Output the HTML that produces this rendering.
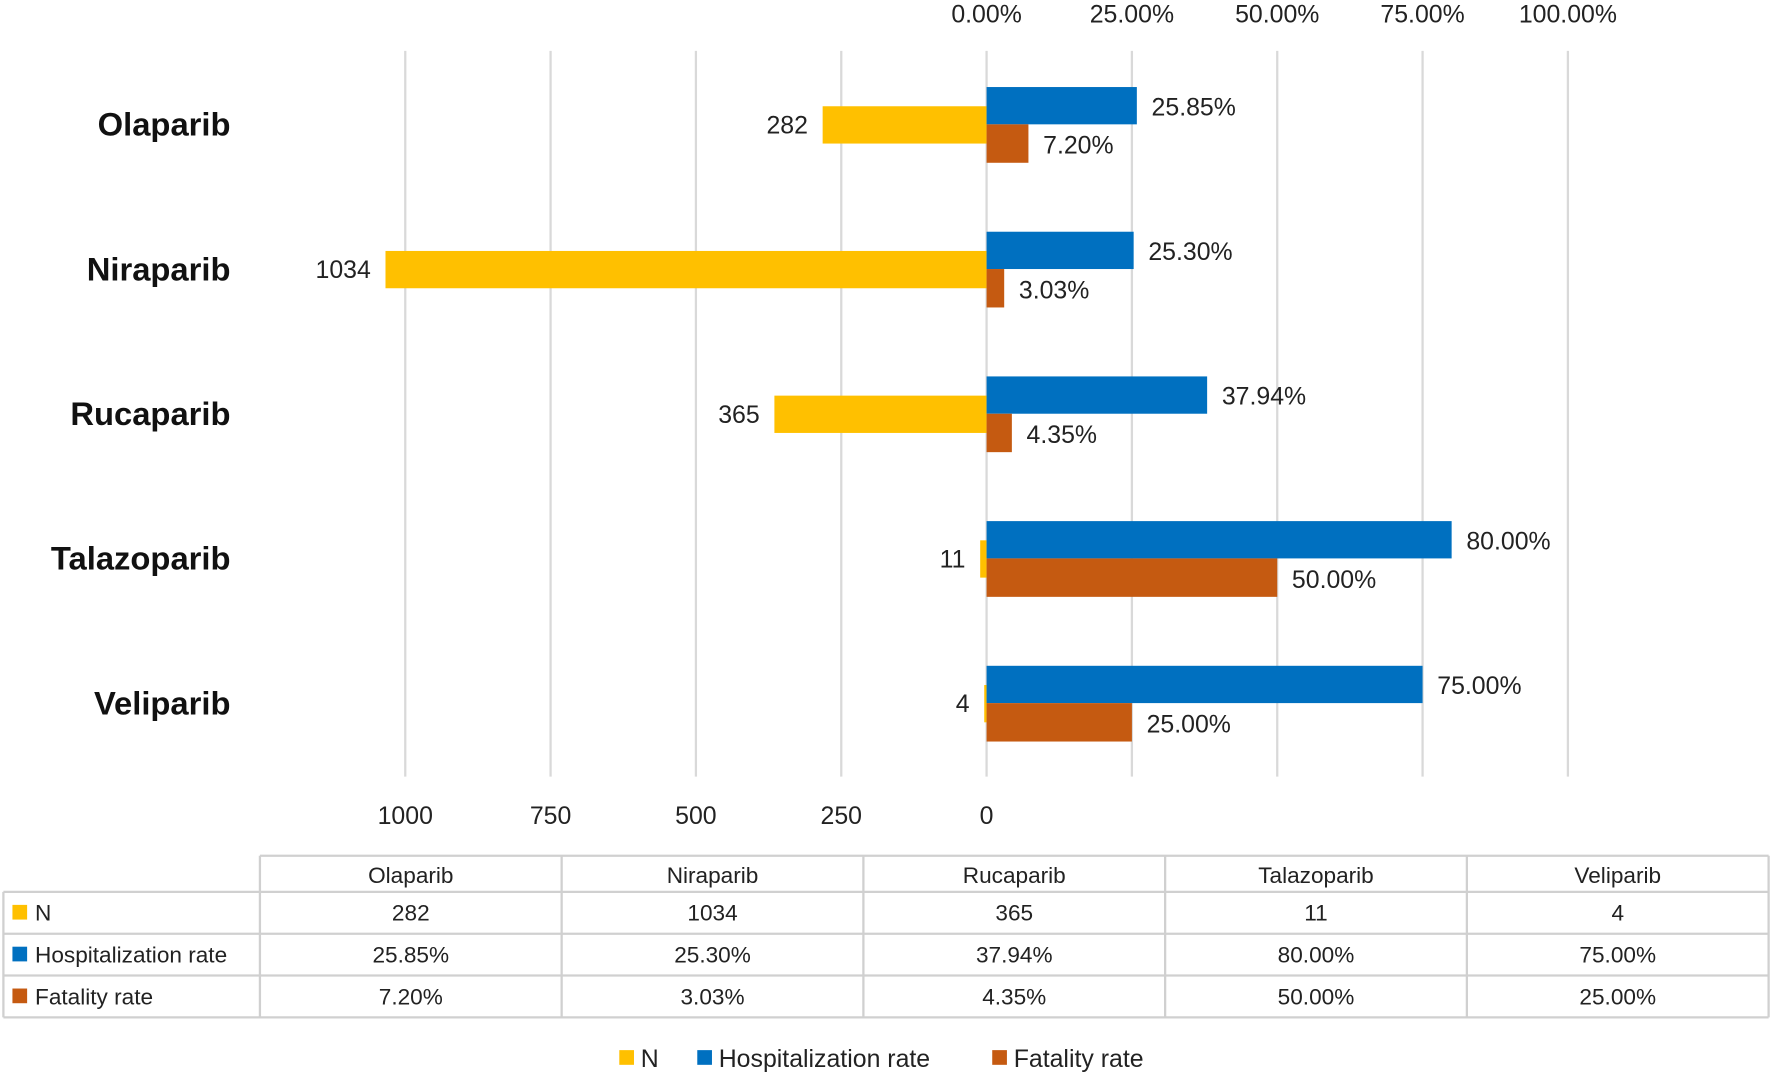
<!DOCTYPE html>
<html><head><meta charset="utf-8"><style>
body{margin:0;background:#fff;font-family:"Liberation Sans",sans-serif;}
svg{display:block;}
svg text{font-family:"Liberation Sans",sans-serif;}
</style></head><body>
<svg width="1772" height="1075" viewBox="0 0 1568 951" preserveAspectRatio="none">
<g id="grid"></g>
<g id="bars"></g>
<g id="labels"></g>
<g id="table"></g>
<g id="legend"></g>
</svg>
<script>
const categories=["Olaparib","Niraparib","Rucaparib","Talazoparib","Veliparib"];
const nValues=[282,1034,365,11,4];
const hospRates=[25.85,25.30,37.94,80.00,75.00];
const fatalRates=[7.20,3.03,4.35,50.00,25.00];
const nTicks=[1000,750,500,250,0];
const pctTicks=[0,25,50,75,100];
const seriesNames=["N","Hospitalization rate","Fatality rate"];
const colors=["#FFC000","#0070C0","#C55A11"];

const NS="http://www.w3.org/2000/svg";
const zeroX=873, unit=128.6;
const xN=v=>zeroX-v/250*unit;
const xP=v=>zeroX+v/25*unit;
const rowY=i=>110+i*128;
function mk(tag,attrs,parent,txt){const e=document.createElementNS(NS,tag);for(const k in attrs)e.setAttribute(k,attrs[k]);if(txt!==undefined)e.textContent=txt;parent.appendChild(e);return e;}
const grid=document.getElementById('grid'),bars=document.getElementById('bars'),labels=document.getElementById('labels'),table=document.getElementById('table'),legend=document.getElementById('legend');

nTicks.forEach(t=>{
  const l=mk('line',{x1:xN(t),x2:xN(t),y1:45,y2:687,stroke:'#d9d9d9','stroke-width':2},grid);
  
  
  const tx=mk('text',{x:xN(t),y:729,'text-anchor':'middle','font-size':22,fill:'#222'},labels,String(t));
  
  
});
pctTicks.forEach(t=>{
  if(t>0){const l=mk('line',{x1:xP(t),x2:xP(t),y1:45,y2:687,stroke:'#d9d9d9','stroke-width':2},grid);
  
  }
  const tx=mk('text',{x:xP(t),y:20,'text-anchor':'middle','font-size':22,fill:'#222'},labels,t.toFixed(2)+'%');
  
  
});
categories.forEach((c,i)=>{
  const y=rowY(i);
  const cl=mk('text',{x:204,y:y+10,'text-anchor':'end','font-size':29,'font-weight':'bold',fill:'#111'},labels,c);
  
  
  const yb=mk('rect',{x:xN(nValues[i]),y:y-16,width:Math.max(zeroX-xN(nValues[i]),1),height:33,fill:colors[0]},bars);
  
  
  const yl=mk('text',{x:xN(nValues[i])-13,y:y+8,'text-anchor':'end','font-size':22,fill:'#222'},labels,String(nValues[i]));
  
  
  const hb=mk('rect',{x:zeroX,y:y-33,width:xP(hospRates[i])-zeroX,height:33,fill:colors[1]},bars);
  
  
  const hl=mk('text',{x:xP(hospRates[i])+13,y:y-8,'font-size':22,fill:'#222'},labels,hospRates[i].toFixed(2)+'%');
  
  
  const fb=mk('rect',{x:zeroX,y:y,width:xP(fatalRates[i])-zeroX,height:34,fill:colors[2]},bars);
  
  
  const fl=mk('text',{x:xP(fatalRates[i])+13,y:y+26,'font-size':22,fill:'#222'},labels,fatalRates[i].toFixed(2)+'%');
  
  
});
// table
const colX=[3,230,497,764,1031,1298,1565];
const rowTop=[757,789,826,863,900];
const st={stroke:'#d0d0d0','stroke-width':2};
rowTop.forEach((y,r)=>{const l=mk('line',Object.assign({x1:r===0?230:3,x2:1565,y1:y,y2:y},st),table);
  
  });
colX.forEach((x,k)=>{const l=mk('line',Object.assign({x1:x,x2:x,y1:k===0?789:757,y2:900},st),table);
  
  });
categories.forEach((c,i)=>{const t=mk('text',{x:(colX[i+1]+colX[i+2])/2,y:781,'text-anchor':'middle','font-size':20,fill:'#222'},table,c);
  
  });
const rowsData=[nValues.map(String),hospRates.map(v=>v.toFixed(2)+'%'),fatalRates.map(v=>v.toFixed(2)+'%')];
rowsData.forEach((row,r)=>{
  const cy=(rowTop[r+1]+rowTop[r+2])/2;
  const sw=mk('rect',{x:11,y:cy-7,width:13,height:13,fill:colors[r]},table);
  
  
  const nm=mk('text',{x:31,y:cy+7,'font-size':20,fill:'#222'},table,seriesNames[r]);
  
  
  row.forEach((v,i)=>{const t=mk('text',{x:(colX[i+1]+colX[i+2])/2,y:cy+7,'text-anchor':'middle','font-size':20,fill:'#222'},table,v);
    
    });
});
// legend
const legX=[548,617,878];
seriesNames.forEach((s,k)=>{
  const r=mk('rect',{x:legX[k],y:929,width:13,height:13,fill:colors[k]},legend);
  
  
  const t=mk('text',{x:legX[k]+19,y:944,'font-size':22,fill:'#222'},legend,s);
  
  
});
</script>
</body></html>
